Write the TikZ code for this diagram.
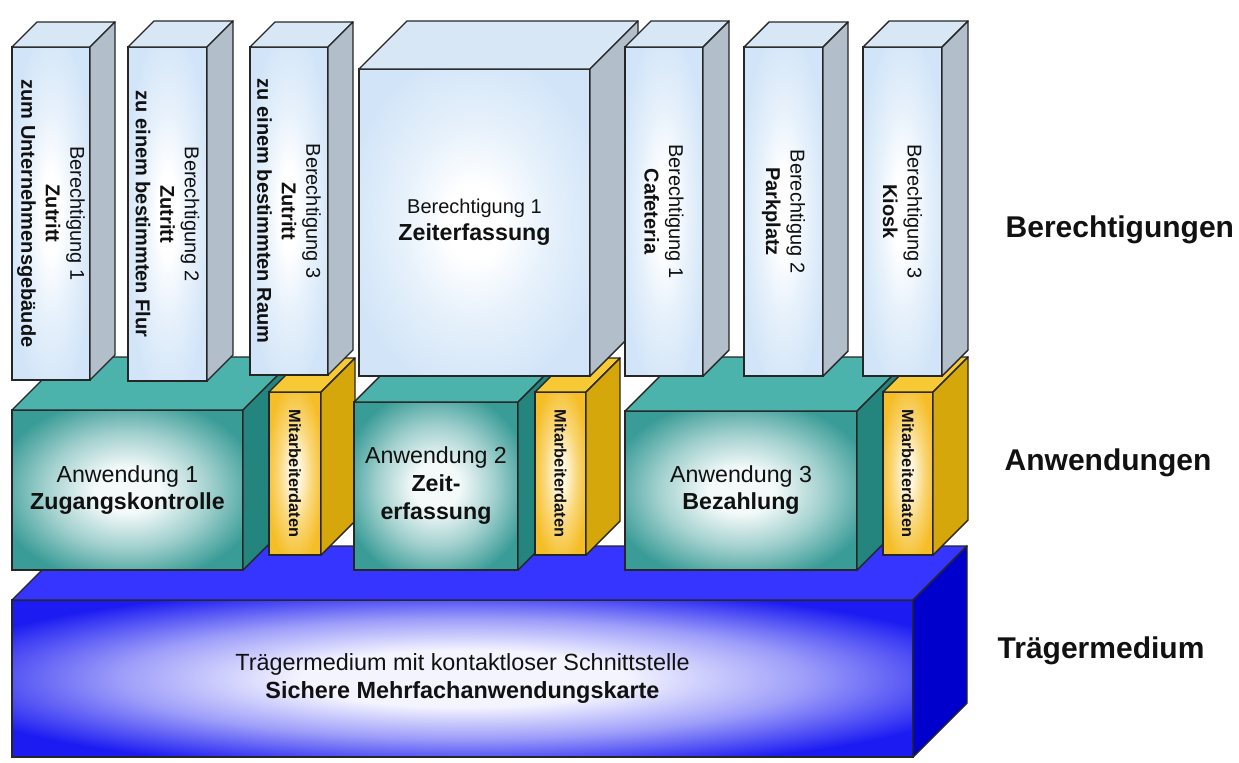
\documentclass[tikz,border=0pt]{standalone}
\usepackage{fontspec}
\setmainfont{Liberation Sans}

\definecolor{linie}{HTML}{262626}
\definecolor{schrift}{HTML}{111111}
\definecolor{berRand}{HTML}{D2E5F8}
\definecolor{berTop}{HTML}{D8E7F5}
\definecolor{berSide}{HTML}{B2BFCB}
\definecolor{tealRand}{HTML}{3A9C97}
\definecolor{tealMitte}{HTML}{F4FAFA}
\definecolor{tealTop}{HTML}{4BB2AC}
\definecolor{tealSide}{HTML}{24857F}
\definecolor{gelbRand}{HTML}{F5BE28}
\definecolor{gelbMitte}{HTML}{FFF6DC}
\definecolor{gelbTop}{HTML}{F7CA35}
\definecolor{gelbSide}{HTML}{D6A70A}
\definecolor{blauRand}{HTML}{1C1CF2}
\definecolor{blauMitte}{HTML}{F4F4FF}
\definecolor{blauTop}{HTML}{3535FF}
\definecolor{blauSide}{HTML}{0000CC}
\colorlet{berHalb}{berRand!55!white}
\colorlet{tealHalb}{tealRand!45!tealMitte}
\colorlet{gelbHalb}{gelbRand!55!gelbMitte}
\colorlet{blauHalb}{blauRand!40!blauMitte}

\pgfdeclareradialshading{berverlauf}{\pgfpoint{0bp}{0bp}}{color(0bp)=(white); color(6bp)=(white); color(16bp)=(berHalb); color(28bp)=(berRand); color(50bp)=(berRand)}
\pgfdeclareradialshading{tealverlauf}{\pgfpoint{0bp}{0bp}}{color(0bp)=(tealMitte); color(7bp)=(tealMitte); color(18bp)=(tealHalb); color(29bp)=(tealRand); color(50bp)=(tealRand)}
\pgfdeclareradialshading{gelbverlauf}{\pgfpoint{0bp}{0bp}}{color(0bp)=(gelbMitte); color(5bp)=(gelbMitte); color(16bp)=(gelbHalb); color(28bp)=(gelbRand); color(50bp)=(gelbRand)}
\pgfdeclareradialshading{blauverlauf}{\pgfpoint{0bp}{0bp}}{color(0bp)=(blauMitte); color(9bp)=(blauMitte); color(19bp)=(blauHalb); color(30bp)=(blauRand); color(50bp)=(blauRand)}

% #1 name, #2 x, #3 y (front top left), #4 width, #5 height, #6 depth, #7 colour
\newcommand{\quader}[7]{%
  \node[front, shading=#7verlauf, minimum width=#4*0.5pt, minimum height=#5*0.5pt] (#1) at ({#2+#4/2},{#3+#5/2}) {};
  \filldraw[face, fill=#7Top] (#1.north west) -- ++(#6,-#6) -- ++(#4,0) -- (#1.north east) -- cycle;
  \filldraw[face, fill=#7Side] (#1.north east) -- ++(#6,-#6) -- ++(0,#5) -- (#1.south east) -- cycle;
}

\begin{document}
\begin{tikzpicture}[x=0.5pt,y=-0.5pt,line width=0.7pt]
    \tikzstyle{front}=[shape=rectangle, shade, draw=linie, inner sep=0pt, outer sep=0pt]
    \tikzstyle{face}=[draw=linie, line join=round]
    \tikzstyle{txt}=[inner sep=0pt, align=center, text=schrift]
    \tikzstyle{dreh}=[txt, rotate=-90, font=\fontsize{10}{12.3}\selectfont]
    \tikzstyle{mitarb}=[txt, rotate=-90, font=\bfseries\fontsize{8.2}{10}\selectfont]
    \tikzstyle{ebene}=[txt, anchor=base west, font=\bfseries\fontsize{15}{18}\selectfont]
    \useasboundingbox (0,0) rectangle (1239,762);

    % Traegermedium
    \quader{karte}{12}{600}{901}{157}{54}{blau}
    \node[txt, font=\fontsize{11.7}{14}\selectfont] (kt) at (karte) {Trägermedium mit kontaktloser Schnittstelle\\\textbf{Sichere Mehrfachanwendungskarte}};

    % Anwendungen
    \quader{a1}{12}{410}{231}{160}{53}{teal}
    \quader{y1}{269}{392}{52}{163}{34}{gelb}
    \quader{a2}{354}{402}{164}{168}{40}{teal}
    \quader{y2}{535}{392}{51}{163}{34}{gelb}
    \quader{a3}{625}{411}{232}{159}{54}{teal}
    \quader{y3}{883}{392}{50}{163}{35}{gelb}
    \node[txt, font=\fontsize{11.6}{13.5}\selectfont] (a1t) at (a1) {Anwendung 1\\\textbf{Zugangskontrolle}};
    \node[txt, font=\fontsize{11.6}{14}\selectfont] (a2t) at (a2) {Anwendung 2\\\textbf{Zeit-}\\\textbf{erfassung}};
    \node[txt, font=\fontsize{11.6}{13.5}\selectfont] (a3t) at (a3) {Anwendung 3\\\textbf{Bezahlung}};
    \node[mitarb] (y1t) at (y1) {Mitarbeiterdaten};
    \node[mitarb] (y2t) at (y2) {Mitarbeiterdaten};
    \node[mitarb] (y3t) at (y3) {Mitarbeiterdaten};

    % Berechtigungen
    \quader{b1}{12}{47}{78}{333}{25}{ber}
    \quader{b2}{128}{47}{79}{334}{26}{ber}
    \quader{b3}{250}{47}{78}{328}{25}{ber}
    \quader{z}{359}{69}{231}{307}{48}{ber}
    \quader{caf}{625}{47}{78}{329}{26}{ber}
    \quader{park}{744}{47}{79}{329}{25}{ber}
    \quader{kiosk}{863}{47}{79}{329}{26}{ber}
    \node[dreh] (b1t) at (b1) {Berechtigung 1\\\textbf{Zutritt}\\\textbf{zum Unternehmensgebäude}};
    \node[dreh] (b2t) at (b2) {Berechtigung 2\\\textbf{Zutritt}\\\textbf{zu einem bestimmten Flur}};
    \node[dreh] (b3t) at (b3) {Berechtigung 3\\\textbf{Zutritt}\\\textbf{zu einem bestimmten Raum}};
    \node[txt, font=\fontsize{11.6}{13.5}\selectfont] (zt) at (z) {{\fontsize{10}{13.5}\selectfont Berechtigung 1}\\\textbf{Zeiterfassung}};
    \node[dreh] (caft) at (caf) {Berechtigung 1\\\textbf{Cafeteria}};
    \node[dreh] (parkt) at (park) {Berechtigug 2\\\textbf{Parkplatz}};
    \node[dreh] (kioskt) at (kiosk) {Berechtigung 3\\\textbf{Kiosk}};

    % Ebenen
    \node[ebene] (lber) at (1005,237) {Berechtigungen};
    \node[ebene] (lanw) at (1004,470) {Anwendungen};
    \node[ebene] (ltrg) at (997,658) {Trägermedium};
\end{tikzpicture}
\end{document}
